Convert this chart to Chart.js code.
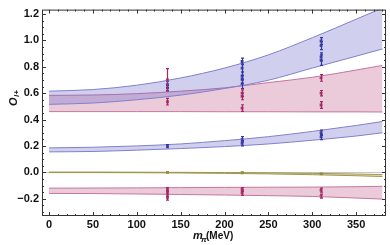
<!DOCTYPE html>
<html>
<head>
<meta charset="utf-8">
<script src="https://cdn.jsdelivr.net/npm/chart.js@4.4.0/dist/chart.umd.min.js"></script>
<style>
  html,body{margin:0;padding:0;background:#fff}
  #wrap{width:390px;height:245px}
</style>
</head>
<body>
<div id="wrap"><canvas id="c" width="390" height="245"></canvas></div>
<script>
// ---- data ----
const mGrid    = [0, 50, 100, 150, 200, 250, 300, 350, 380];

// upper blue band
const bandAUp  = [0.615, 0.627, 0.660, 0.715, 0.790, 0.890, 1.020, 1.160, 1.245];
const bandALo  = [0.515, 0.525, 0.550, 0.585, 0.635, 0.698, 0.790, 0.880, 0.935];
// upper pink band
const bandBUp  = [0.583, 0.586, 0.596, 0.615, 0.640, 0.680, 0.720, 0.775, 0.810];
const bandBLo  = [0.460, 0.460, 0.460, 0.460, 0.459, 0.459, 0.458, 0.458, 0.457];
// middle blue band
const bandCUp  = [0.185, 0.190, 0.200, 0.215, 0.240, 0.270, 0.310, 0.355, 0.385];
const bandCLo  = [0.155, 0.158, 0.168, 0.180, 0.195, 0.215, 0.243, 0.275, 0.300];
// thin olive band near zero
const bandDUp  = [0.002, 0.002, 0.001, 0.000, -0.002, -0.004, -0.008, -0.013, -0.017];
const bandDLo  = [-0.002, -0.002, -0.003, -0.005, -0.008, -0.012, -0.018, -0.026, -0.032];
// lower pink band
const bandEUp  = [-0.120, -0.119, -0.118, -0.116, -0.114, -0.113, -0.112, -0.109, -0.106];
const bandELo  = [-0.160, -0.161, -0.164, -0.168, -0.172, -0.177, -0.183, -0.195, -0.203];

// lattice points: [m_pi, value, error]
const ptsBlueHi  = [[135,0.665,0.025],[135,0.640,0.020],
                    [220,0.840,0.025],[220,0.790,0.030],[220,0.730,0.030],[220,0.705,0.030],[220,0.670,0.035],
                    [310,0.995,0.025],[310,0.960,0.030],[310,0.875,0.030],[310,0.850,0.040]];
const ptsRedHi   = [[135,0.700,0.085],[135,0.535,0.025],
                    [220,0.600,0.025],[220,0.575,0.025],[220,0.487,0.025],
                    [310,0.715,0.025],[310,0.600,0.020],[310,0.510,0.025]];
const ptsBlueMid = [[135,0.198,0.012],[220,0.250,0.020],[220,0.220,0.020],[310,0.300,0.020],[310,0.268,0.020]];
const ptsOlive   = [[135,0.000,0.004],[220,-0.003,0.004],[310,-0.012,0.004]];
const ptsRedLo   = [[135,-0.130,0.015],[135,-0.160,0.020],[135,-0.190,0.020],
                    [220,-0.130,0.015],[220,-0.155,0.020],
                    [310,-0.135,0.015],[310,-0.180,0.015]];

const xTicks = [0, 50, 100, 150, 200, 250, 300, 350];
const yTicks = [-0.2, 0, 0.2, 0.4, 0.6, 0.8, 1.0, 1.2];

// ---- styles ----
const BLUE_FILL = 'rgba(100,100,200,0.30)', BLUE_EDGE = 'rgb(128,128,204)', BLUE_PT = 'rgb(55,55,165)';
const PINK_FILL = 'rgba(190,80,130,0.30)',  PINK_EDGE = 'rgb(196,118,160)', PINK_PT = 'rgb(165,40,100)';
const OLIV_FILL = 'rgba(175,165,80,0.40)',  OLIV_EDGE = 'rgb(160,150,75)',  OLIV_PT = 'rgb(150,140,60)';

const toXY = arr => arr.map((v,i)=>({x:mGrid[i], y:v}));

function band(up, lo, fill, edge){
  const base = {type:'line', pointRadius:0, borderWidth:1, borderColor:edge,
                cubicInterpolationMode:'monotone'};
  return [
    {...base, data:toXY(up), fill:false},
    {...base, data:toXY(lo), fill:'-1', backgroundColor:fill}
  ];
}
function pts(list, color){
  return {type:'scatter', data:list.map(p=>({x:p[0], y:p[1]})), errs:list.map(p=>p[2]),
          pointStyle:'rect', pointRadius:2, backgroundColor:color, borderColor:color, borderWidth:0};
}

// error bars on top of the bands
const errBars = {
  id:'errBars',
  afterDatasetsDraw(chart){
    const {ctx, scales:{x,y}} = chart;
    ctx.save();
    ctx.lineWidth = 1.2;
    chart.data.datasets.forEach(ds=>{
      if(!ds.errs) return;
      ctx.strokeStyle = ds.borderColor;
      ds.data.forEach((p,i)=>{
        const px = Math.round(x.getPixelForValue(p.x)) + 0.5;
        const y1 = y.getPixelForValue(p.y + ds.errs[i]);
        const y2 = y.getPixelForValue(p.y - ds.errs[i]);
        ctx.beginPath();
        ctx.moveTo(px, y1); ctx.lineTo(px, y2);
        ctx.moveTo(px-1.5, y1); ctx.lineTo(px+1.5, y1);
        ctx.moveTo(px-1.5, y2); ctx.lineTo(px+1.5, y2);
        ctx.stroke();
      });
    });
    ctx.restore();
  }
};

// mathematica-style frame, inward ticks, zero line and axis titles
const frame = {
  id:'frame',
  beforeDatasetsDraw(chart){
    const {ctx, chartArea:a, scales:{y}} = chart;
    const py = Math.round(y.getPixelForValue(0)) + 0.5;
    ctx.save();
    ctx.strokeStyle = '#c4c4c4'; ctx.lineWidth = 1;
    ctx.beginPath(); ctx.moveTo(a.left, py); ctx.lineTo(a.right, py); ctx.stroke();
    ctx.restore();
  },
  afterDraw(chart){
    const {ctx, chartArea:a, scales:{x,y}} = chart;
    ctx.save();
    ctx.strokeStyle = '#333'; ctx.lineWidth = 1;
    ctx.strokeRect(a.left+0.5, a.top+0.5, a.right-a.left-1, a.bottom-a.top-1);
    ctx.beginPath();
    for(let v=0; v<=x.max; v+=10){
      const px = Math.round(x.getPixelForValue(v)) + 0.5;
      const L = (v % 50 === 0) ? 4 : 2;
      ctx.moveTo(px, a.bottom); ctx.lineTo(px, a.bottom - L);
      ctx.moveTo(px, a.top);    ctx.lineTo(px, a.top + L);
    }
    for(let k=-6; k<=24; k++){
      const v = k*0.05;
      const py = Math.round(y.getPixelForValue(v)) + 0.5;
      const L = (k % 4 === 0) ? 4 : 2;
      ctx.moveTo(a.left, py);  ctx.lineTo(a.left + L, py);
      ctx.moveTo(a.right, py); ctx.lineTo(a.right - L, py);
    }
    ctx.stroke();

    // y title: O_{l+}
    ctx.fillStyle = '#111';
    ctx.save();
    ctx.translate(17, 106);
    ctx.rotate(-Math.PI/2);
    ctx.font = 'italic bold 11px "Liberation Sans", Arial, sans-serif';
    ctx.textBaseline = 'alphabetic'; ctx.textAlign = 'left';
    ctx.fillText('O', 0, 0);
    ctx.font = 'italic bold 8px "Liberation Sans", Arial, sans-serif';
    ctx.fillText('l+', 9, 2);
    ctx.restore();

    // x title: m_pi (MeV)
    ctx.textBaseline = 'alphabetic'; ctx.textAlign = 'left';
    ctx.font = 'italic bold 11px "Liberation Sans", Arial, sans-serif';
    ctx.fillText('m', 193, 239);
    ctx.font = 'italic bold 8px "Liberation Sans", Arial, sans-serif';
    ctx.fillText('π', 201, 242);
    ctx.font = 'bold 10px "Liberation Sans", Arial, sans-serif';
    ctx.fillText('(MeV)', 206, 239);
    ctx.restore();
  }
};

const tickFont = {family:'"Liberation Sans", Arial, sans-serif', size:11, weight:'bold'};

new Chart(document.getElementById('c'), {
  data:{
    datasets:[
      ...band(bandAUp, bandALo, BLUE_FILL, BLUE_EDGE),
      ...band(bandCUp, bandCLo, BLUE_FILL, BLUE_EDGE),
      ...band(bandDUp, bandDLo, OLIV_FILL, OLIV_EDGE),
      ...band(bandBUp, bandBLo, PINK_FILL, PINK_EDGE),
      ...band(bandEUp, bandELo, PINK_FILL, PINK_EDGE),
      pts(ptsBlueHi, BLUE_PT),
      pts(ptsRedHi, PINK_PT),
      pts(ptsBlueMid, BLUE_PT),
      pts(ptsOlive, OLIV_PT),
      pts(ptsRedLo, PINK_PT)
    ]
  },
  options:{
    responsive:false,
    animation:false,
    layout:{padding:{top:1, right:3, left:0, bottom:0}},
    plugins:{legend:{display:false}, tooltip:{enabled:false}},
    scales:{
      x:{type:'linear', min:-8, max:384,
         grid:{display:false, drawTicks:false}, border:{display:false},
         afterBuildTicks: s => { s.ticks = xTicks.map(v=>({value:v})); },
         afterFit: s => { s.height = 29; },
         ticks:{color:'#111', font:tickFont, padding:2, maxRotation:0, autoSkip:false,
                callback: v => String(v)}},
      y:{type:'linear', min:-0.331, max:1.233,
         grid:{display:false, drawTicks:false}, border:{display:false},
         afterBuildTicks: s => { s.ticks = yTicks.map(v=>({value:v})); },
         afterFit: s => { s.width = 42; },
         ticks:{color:'#111', font:tickFont, padding:3, autoSkip:false,
                callback: v => (v < 0 ? '\u2212' : '') + Math.abs(v).toFixed(1)}}
    }
  },
  plugins:[frame, errBars]
});
</script>
</body>
</html>
